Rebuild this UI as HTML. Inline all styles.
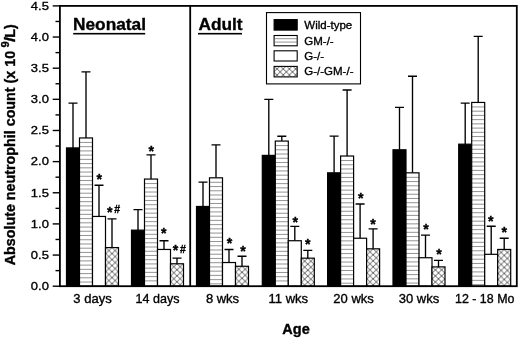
<!DOCTYPE html><html><head><meta charset="utf-8"><title>Absolute neutrophil count</title>
<style>html,body{margin:0;padding:0;background:#fff}svg{display:block}text{font-family:"Liberation Sans",sans-serif;fill:#000;stroke:#000;stroke-width:0.35px}</style></head><body>
<svg width="520" height="339" viewBox="0 0 520 339">
<defs>
</defs>
<rect width="520" height="339" fill="#fff"/>
<path d="M73.00 147.92V103.07M68.50 103.07H77.50" stroke="#000" stroke-width="1.35" fill="none"/>
<rect x="66.50" y="147.92" width="13.0" height="138.28" fill="#000" stroke="#000" stroke-width="1.2"/>
<path d="M86.00 137.95V71.93M81.50 71.93H90.50" stroke="#000" stroke-width="1.35" fill="none"/>
<rect x="79.50" y="137.95" width="13.0" height="148.25" fill="#fff"/>
<path d="M79.50 142.45h13.0M79.50 146.68h13.0M79.50 150.91h13.0M79.50 155.14h13.0M79.50 159.37h13.0M79.50 163.60h13.0M79.50 167.83h13.0M79.50 172.06h13.0M79.50 176.29h13.0M79.50 180.52h13.0M79.50 184.75h13.0M79.50 188.98h13.0M79.50 193.21h13.0M79.50 197.44h13.0M79.50 201.67h13.0M79.50 205.90h13.0M79.50 210.13h13.0M79.50 214.36h13.0M79.50 218.59h13.0M79.50 222.82h13.0M79.50 227.05h13.0M79.50 231.28h13.0M79.50 235.51h13.0M79.50 239.74h13.0M79.50 243.97h13.0M79.50 248.20h13.0M79.50 252.43h13.0M79.50 256.66h13.0M79.50 260.89h13.0M79.50 265.12h13.0M79.50 269.35h13.0M79.50 273.58h13.0M79.50 277.81h13.0M79.50 282.04h13.0" stroke="#666" stroke-width="0.7" fill="none"/>
<rect x="79.50" y="137.95" width="13.0" height="148.25" fill="none" stroke="#000" stroke-width="1.2"/>
<path d="M99.00 216.44V185.29M94.50 185.29H103.50" stroke="#000" stroke-width="1.35" fill="none"/>
<rect x="92.50" y="216.44" width="13.0" height="69.76" fill="#fff" stroke="#000" stroke-width="1.2"/>
<text transform="translate(96.53 183.53) scale(1.0 1)" font-size="14.2" text-anchor="start" font-weight="bold" stroke-width="0.1">*</text>
<path d="M112.00 247.58V218.93M107.50 218.93H116.50" stroke="#000" stroke-width="1.35" fill="none"/>
<pattern id="c0" x="112.00" y="247.58" width="6.2" height="6.0" patternUnits="userSpaceOnUse"><rect width="6.2" height="6.0" fill="#fff"/><path d="M0 0L6.2 6.0M6.2 0L0 6.0" stroke="#222" stroke-width="0.7" fill="none"/></pattern>
<rect x="105.50" y="247.58" width="13.0" height="38.62" fill="url(#c0)" stroke="#000" stroke-width="1.2"/>
<text transform="translate(106.98 217.17) scale(1.0 1)" font-size="14.2" text-anchor="start" font-weight="bold" stroke-width="0.1">*</text>
<text transform="translate(114.28 212.87) scale(1.0 1)" font-size="10.5" text-anchor="start" font-weight="bold" stroke-width="0.1">#</text>
<text transform="translate(92.50 303.20) scale(1.0 1)" font-size="13.0" text-anchor="middle">3 days</text>
<path d="M138.00 230.14V209.58M133.50 209.58H142.50" stroke="#000" stroke-width="1.35" fill="none"/>
<rect x="131.50" y="230.14" width="13.0" height="56.06" fill="#000" stroke="#000" stroke-width="1.2"/>
<path d="M151.00 179.06V154.90M146.50 154.90H155.50" stroke="#000" stroke-width="1.35" fill="none"/>
<rect x="144.50" y="179.06" width="13.0" height="107.14" fill="#fff"/>
<path d="M144.50 183.56h13.0M144.50 187.79h13.0M144.50 192.02h13.0M144.50 196.25h13.0M144.50 200.48h13.0M144.50 204.71h13.0M144.50 208.94h13.0M144.50 213.17h13.0M144.50 217.40h13.0M144.50 221.63h13.0M144.50 225.86h13.0M144.50 230.09h13.0M144.50 234.32h13.0M144.50 238.55h13.0M144.50 242.78h13.0M144.50 247.01h13.0M144.50 251.24h13.0M144.50 255.47h13.0M144.50 259.70h13.0M144.50 263.93h13.0M144.50 268.16h13.0M144.50 272.39h13.0M144.50 276.62h13.0M144.50 280.85h13.0" stroke="#666" stroke-width="0.7" fill="none"/>
<rect x="144.50" y="179.06" width="13.0" height="107.14" fill="none" stroke="#000" stroke-width="1.2"/>
<text transform="translate(148.53 155.63) scale(1.0 1)" font-size="14.2" text-anchor="start" font-weight="bold" stroke-width="0.1">*</text>
<path d="M164.00 249.45V240.73M159.50 240.73H168.50" stroke="#000" stroke-width="1.35" fill="none"/>
<rect x="157.50" y="249.45" width="13.0" height="36.75" fill="#fff" stroke="#000" stroke-width="1.2"/>
<text transform="translate(160.93 238.37) scale(1.0 1)" font-size="14.2" text-anchor="start" font-weight="bold" stroke-width="0.1">*</text>
<path d="M177.00 263.78V258.17M172.50 258.17H181.50" stroke="#000" stroke-width="1.35" fill="none"/>
<pattern id="c1" x="177.00" y="263.78" width="6.2" height="6.0" patternUnits="userSpaceOnUse"><rect width="6.2" height="6.0" fill="#fff"/><path d="M0 0L6.2 6.0M6.2 0L0 6.0" stroke="#222" stroke-width="0.7" fill="none"/></pattern>
<rect x="170.50" y="263.78" width="13.0" height="22.42" fill="url(#c1)" stroke="#000" stroke-width="1.2"/>
<text transform="translate(172.73 255.41) scale(1.0 1)" font-size="14.2" text-anchor="start" font-weight="bold" stroke-width="0.1">*</text>
<text transform="translate(179.88 252.51) scale(1.0 1)" font-size="10.5" text-anchor="start" font-weight="bold" stroke-width="0.1">#</text>
<text transform="translate(157.50 303.20) scale(0.965 1)" font-size="13.0" text-anchor="middle">14 days</text>
<path d="M203.00 206.47V182.18M198.50 182.18H207.50" stroke="#000" stroke-width="1.35" fill="none"/>
<rect x="196.50" y="206.47" width="13.0" height="79.73" fill="#000" stroke="#000" stroke-width="1.2"/>
<path d="M216.00 177.82V144.80M211.50 144.80H220.50" stroke="#000" stroke-width="1.35" fill="none"/>
<rect x="209.50" y="177.82" width="13.0" height="108.38" fill="#fff"/>
<path d="M209.50 182.32h13.0M209.50 186.55h13.0M209.50 190.78h13.0M209.50 195.01h13.0M209.50 199.24h13.0M209.50 203.47h13.0M209.50 207.70h13.0M209.50 211.93h13.0M209.50 216.16h13.0M209.50 220.39h13.0M209.50 224.62h13.0M209.50 228.85h13.0M209.50 233.08h13.0M209.50 237.31h13.0M209.50 241.54h13.0M209.50 245.77h13.0M209.50 250.00h13.0M209.50 254.23h13.0M209.50 258.46h13.0M209.50 262.69h13.0M209.50 266.92h13.0M209.50 271.15h13.0M209.50 275.38h13.0M209.50 279.61h13.0M209.50 283.84h13.0" stroke="#666" stroke-width="0.7" fill="none"/>
<rect x="209.50" y="177.82" width="13.0" height="108.38" fill="none" stroke="#000" stroke-width="1.2"/>
<path d="M229.00 262.53V249.45M224.50 249.45H233.50" stroke="#000" stroke-width="1.35" fill="none"/>
<rect x="222.50" y="262.53" width="13.0" height="23.67" fill="#fff" stroke="#000" stroke-width="1.2"/>
<text transform="translate(226.78 247.94) scale(1.0 1)" font-size="14.2" text-anchor="start" font-weight="bold" stroke-width="0.1">*</text>
<path d="M242.00 266.27V256.30M237.50 256.30H246.50" stroke="#000" stroke-width="1.35" fill="none"/>
<pattern id="c2" x="242.00" y="266.27" width="6.2" height="6.0" patternUnits="userSpaceOnUse"><rect width="6.2" height="6.0" fill="#fff"/><path d="M0 0L6.2 6.0M6.2 0L0 6.0" stroke="#222" stroke-width="0.7" fill="none"/></pattern>
<rect x="235.50" y="266.27" width="13.0" height="19.93" fill="url(#c2)" stroke="#000" stroke-width="1.2"/>
<text transform="translate(240.13 256.14) scale(1.0 1)" font-size="14.2" text-anchor="start" font-weight="bold" stroke-width="0.1">*</text>
<text transform="translate(222.50 303.20) scale(1.0 1)" font-size="13.0" text-anchor="middle">8 wks</text>
<path d="M268.80 155.39V99.33M264.30 99.33H273.30" stroke="#000" stroke-width="1.35" fill="none"/>
<rect x="262.30" y="155.39" width="13.0" height="130.81" fill="#000" stroke="#000" stroke-width="1.2"/>
<path d="M281.80 141.07V136.21M277.30 136.21H286.30" stroke="#000" stroke-width="1.35" fill="none"/>
<rect x="275.30" y="141.07" width="13.0" height="145.13" fill="#fff"/>
<path d="M275.30 145.57h13.0M275.30 149.80h13.0M275.30 154.03h13.0M275.30 158.26h13.0M275.30 162.49h13.0M275.30 166.72h13.0M275.30 170.95h13.0M275.30 175.18h13.0M275.30 179.41h13.0M275.30 183.64h13.0M275.30 187.87h13.0M275.30 192.10h13.0M275.30 196.33h13.0M275.30 200.56h13.0M275.30 204.79h13.0M275.30 209.02h13.0M275.30 213.25h13.0M275.30 217.48h13.0M275.30 221.71h13.0M275.30 225.94h13.0M275.30 230.17h13.0M275.30 234.40h13.0M275.30 238.63h13.0M275.30 242.86h13.0M275.30 247.09h13.0M275.30 251.32h13.0M275.30 255.55h13.0M275.30 259.78h13.0M275.30 264.01h13.0M275.30 268.24h13.0M275.30 272.47h13.0M275.30 276.70h13.0M275.30 280.93h13.0" stroke="#666" stroke-width="0.7" fill="none"/>
<rect x="275.30" y="141.07" width="13.0" height="145.13" fill="none" stroke="#000" stroke-width="1.2"/>
<path d="M294.80 240.73V226.40M290.30 226.40H299.30" stroke="#000" stroke-width="1.35" fill="none"/>
<rect x="288.30" y="240.73" width="13.0" height="45.47" fill="#fff" stroke="#000" stroke-width="1.2"/>
<text transform="translate(292.48 226.87) scale(1.0 1)" font-size="14.2" text-anchor="start" font-weight="bold" stroke-width="0.1">*</text>
<path d="M307.80 258.17V250.32M303.30 250.32H312.30" stroke="#000" stroke-width="1.35" fill="none"/>
<pattern id="c3" x="307.80" y="258.17" width="6.2" height="6.0" patternUnits="userSpaceOnUse"><rect width="6.2" height="6.0" fill="#fff"/><path d="M0 0L6.2 6.0M6.2 0L0 6.0" stroke="#222" stroke-width="0.7" fill="none"/></pattern>
<rect x="301.30" y="258.17" width="13.0" height="28.03" fill="url(#c3)" stroke="#000" stroke-width="1.2"/>
<text transform="translate(304.93 249.26) scale(1.0 1)" font-size="14.2" text-anchor="start" font-weight="bold" stroke-width="0.1">*</text>
<text transform="translate(288.30 303.20) scale(1.0 1)" font-size="13.0" text-anchor="middle">11 wks</text>
<path d="M334.10 172.83V136.08M329.60 136.08H338.60" stroke="#000" stroke-width="1.35" fill="none"/>
<rect x="327.60" y="172.83" width="13.0" height="113.37" fill="#000" stroke="#000" stroke-width="1.2"/>
<path d="M347.10 156.02V89.99M342.60 89.99H351.60" stroke="#000" stroke-width="1.35" fill="none"/>
<rect x="340.60" y="156.02" width="13.0" height="130.18" fill="#fff"/>
<path d="M340.60 160.52h13.0M340.60 164.75h13.0M340.60 168.98h13.0M340.60 173.21h13.0M340.60 177.44h13.0M340.60 181.67h13.0M340.60 185.90h13.0M340.60 190.13h13.0M340.60 194.36h13.0M340.60 198.59h13.0M340.60 202.82h13.0M340.60 207.05h13.0M340.60 211.28h13.0M340.60 215.51h13.0M340.60 219.74h13.0M340.60 223.97h13.0M340.60 228.20h13.0M340.60 232.43h13.0M340.60 236.66h13.0M340.60 240.89h13.0M340.60 245.12h13.0M340.60 249.35h13.0M340.60 253.58h13.0M340.60 257.81h13.0M340.60 262.04h13.0M340.60 266.27h13.0M340.60 270.50h13.0M340.60 274.73h13.0M340.60 278.96h13.0M340.60 283.19h13.0" stroke="#666" stroke-width="0.7" fill="none"/>
<rect x="340.60" y="156.02" width="13.0" height="130.18" fill="none" stroke="#000" stroke-width="1.2"/>
<path d="M360.10 238.24V203.98M355.60 203.98H364.60" stroke="#000" stroke-width="1.35" fill="none"/>
<rect x="353.60" y="238.24" width="13.0" height="47.96" fill="#fff" stroke="#000" stroke-width="1.2"/>
<text transform="translate(357.88 202.62) scale(1.0 1)" font-size="14.2" text-anchor="start" font-weight="bold" stroke-width="0.1">*</text>
<path d="M373.10 248.83V228.89M368.60 228.89H377.60" stroke="#000" stroke-width="1.35" fill="none"/>
<pattern id="c4" x="373.10" y="248.83" width="6.2" height="6.0" patternUnits="userSpaceOnUse"><rect width="6.2" height="6.0" fill="#fff"/><path d="M0 0L6.2 6.0M6.2 0L0 6.0" stroke="#222" stroke-width="0.7" fill="none"/></pattern>
<rect x="366.60" y="248.83" width="13.0" height="37.37" fill="url(#c4)" stroke="#000" stroke-width="1.2"/>
<text transform="translate(370.23 228.73) scale(1.0 1)" font-size="14.2" text-anchor="start" font-weight="bold" stroke-width="0.1">*</text>
<text transform="translate(353.60 303.20) scale(1.0 1)" font-size="13.0" text-anchor="middle">20 wks</text>
<path d="M399.50 149.79V107.43M395.00 107.43H404.00" stroke="#000" stroke-width="1.35" fill="none"/>
<rect x="393.00" y="149.79" width="13.0" height="136.41" fill="#000" stroke="#000" stroke-width="1.2"/>
<path d="M412.50 172.83V76.29M408.00 76.29H417.00" stroke="#000" stroke-width="1.35" fill="none"/>
<rect x="406.00" y="172.83" width="13.0" height="113.37" fill="#fff"/>
<path d="M406.00 177.33h13.0M406.00 181.56h13.0M406.00 185.79h13.0M406.00 190.02h13.0M406.00 194.25h13.0M406.00 198.48h13.0M406.00 202.71h13.0M406.00 206.94h13.0M406.00 211.17h13.0M406.00 215.40h13.0M406.00 219.63h13.0M406.00 223.86h13.0M406.00 228.09h13.0M406.00 232.32h13.0M406.00 236.55h13.0M406.00 240.78h13.0M406.00 245.01h13.0M406.00 249.24h13.0M406.00 253.47h13.0M406.00 257.70h13.0M406.00 261.93h13.0M406.00 266.16h13.0M406.00 270.39h13.0M406.00 274.62h13.0M406.00 278.85h13.0M406.00 283.08h13.0" stroke="#666" stroke-width="0.7" fill="none"/>
<rect x="406.00" y="172.83" width="13.0" height="113.37" fill="none" stroke="#000" stroke-width="1.2"/>
<path d="M425.50 257.73V235.12M421.00 235.12H430.00" stroke="#000" stroke-width="1.35" fill="none"/>
<rect x="419.00" y="257.73" width="13.0" height="28.47" fill="#fff" stroke="#000" stroke-width="1.2"/>
<text transform="translate(423.13 233.76) scale(1.0 1)" font-size="14.2" text-anchor="start" font-weight="bold" stroke-width="0.1">*</text>
<path d="M438.50 266.89V260.35M434.00 260.35H443.00" stroke="#000" stroke-width="1.35" fill="none"/>
<pattern id="c5" x="438.50" y="266.89" width="6.2" height="6.0" patternUnits="userSpaceOnUse"><rect width="6.2" height="6.0" fill="#fff"/><path d="M0 0L6.2 6.0M6.2 0L0 6.0" stroke="#222" stroke-width="0.7" fill="none"/></pattern>
<rect x="432.00" y="266.89" width="13.0" height="19.31" fill="url(#c5)" stroke="#000" stroke-width="1.2"/>
<text transform="translate(436.28 258.90) scale(1.0 1)" font-size="14.2" text-anchor="start" font-weight="bold" stroke-width="0.1">*</text>
<text transform="translate(419.00 303.20) scale(1.0 1)" font-size="13.0" text-anchor="middle">30 wks</text>
<path d="M465.20 144.18V103.07M460.70 103.07H469.70" stroke="#000" stroke-width="1.35" fill="none"/>
<rect x="458.70" y="144.18" width="13.0" height="142.02" fill="#000" stroke="#000" stroke-width="1.2"/>
<path d="M478.20 102.45V36.30M473.70 36.30H482.70" stroke="#000" stroke-width="1.35" fill="none"/>
<rect x="471.70" y="102.45" width="13.0" height="183.75" fill="#fff"/>
<path d="M471.70 106.95h13.0M471.70 111.18h13.0M471.70 115.41h13.0M471.70 119.64h13.0M471.70 123.87h13.0M471.70 128.10h13.0M471.70 132.33h13.0M471.70 136.56h13.0M471.70 140.79h13.0M471.70 145.02h13.0M471.70 149.25h13.0M471.70 153.48h13.0M471.70 157.71h13.0M471.70 161.94h13.0M471.70 166.17h13.0M471.70 170.40h13.0M471.70 174.63h13.0M471.70 178.86h13.0M471.70 183.09h13.0M471.70 187.32h13.0M471.70 191.55h13.0M471.70 195.78h13.0M471.70 200.01h13.0M471.70 204.24h13.0M471.70 208.47h13.0M471.70 212.70h13.0M471.70 216.93h13.0M471.70 221.16h13.0M471.70 225.39h13.0M471.70 229.62h13.0M471.70 233.85h13.0M471.70 238.08h13.0M471.70 242.31h13.0M471.70 246.54h13.0M471.70 250.77h13.0M471.70 255.00h13.0M471.70 259.23h13.0M471.70 263.46h13.0M471.70 267.69h13.0M471.70 271.92h13.0M471.70 276.15h13.0M471.70 280.38h13.0M471.70 284.61h13.0" stroke="#666" stroke-width="0.7" fill="none"/>
<rect x="471.70" y="102.45" width="13.0" height="183.75" fill="none" stroke="#000" stroke-width="1.2"/>
<path d="M491.20 254.31V226.22M486.70 226.22H495.70" stroke="#000" stroke-width="1.35" fill="none"/>
<rect x="484.70" y="254.31" width="13.0" height="31.89" fill="#fff" stroke="#000" stroke-width="1.2"/>
<text transform="translate(488.03 226.02) scale(1.0 1)" font-size="14.2" text-anchor="start" font-weight="bold" stroke-width="0.1">*</text>
<path d="M504.20 249.45V238.24M499.70 238.24H508.70" stroke="#000" stroke-width="1.35" fill="none"/>
<pattern id="c6" x="504.20" y="249.45" width="6.2" height="6.0" patternUnits="userSpaceOnUse"><rect width="6.2" height="6.0" fill="#fff"/><path d="M0 0L6.2 6.0M6.2 0L0 6.0" stroke="#222" stroke-width="0.7" fill="none"/></pattern>
<rect x="497.70" y="249.45" width="13.0" height="36.75" fill="url(#c6)" stroke="#000" stroke-width="1.2"/>
<text transform="translate(501.43 236.78) scale(1.0 1)" font-size="14.2" text-anchor="start" font-weight="bold" stroke-width="0.1">*</text>
<text transform="translate(484.70 303.20) scale(0.957 1)" font-size="13.0" text-anchor="middle">12 - 18 Mo</text>
<rect x="59.9" y="5.9" width="456.9" height="280.3" fill="none" stroke="#000" stroke-width="1.8"/>
<path d="M190.2 5.9V286.2" stroke="#000" stroke-width="1.8"/>
<path d="M52.699999999999996 286.20H59.9" stroke="#000" stroke-width="1.4"/>
<text transform="translate(48.90 290.05) scale(1.1 1)" font-size="11.8" text-anchor="end">0.0</text>
<path d="M55.5 270.63H59.9" stroke="#000" stroke-width="1.4"/>
<path d="M52.699999999999996 255.06H59.9" stroke="#000" stroke-width="1.4"/>
<text transform="translate(48.90 258.91) scale(1.1 1)" font-size="11.8" text-anchor="end">0.5</text>
<path d="M55.5 239.48H59.9" stroke="#000" stroke-width="1.4"/>
<path d="M52.699999999999996 223.91H59.9" stroke="#000" stroke-width="1.4"/>
<text transform="translate(48.90 227.76) scale(1.1 1)" font-size="11.8" text-anchor="end">1.0</text>
<path d="M55.5 208.34H59.9" stroke="#000" stroke-width="1.4"/>
<path d="M52.699999999999996 192.77H59.9" stroke="#000" stroke-width="1.4"/>
<text transform="translate(48.90 196.62) scale(1.1 1)" font-size="11.8" text-anchor="end">1.5</text>
<path d="M55.5 177.19H59.9" stroke="#000" stroke-width="1.4"/>
<path d="M52.699999999999996 161.62H59.9" stroke="#000" stroke-width="1.4"/>
<text transform="translate(48.90 165.47) scale(1.1 1)" font-size="11.8" text-anchor="end">2.0</text>
<path d="M55.5 146.05H59.9" stroke="#000" stroke-width="1.4"/>
<path d="M52.699999999999996 130.48H59.9" stroke="#000" stroke-width="1.4"/>
<text transform="translate(48.90 134.33) scale(1.1 1)" font-size="11.8" text-anchor="end">2.5</text>
<path d="M55.5 114.91H59.9" stroke="#000" stroke-width="1.4"/>
<path d="M52.699999999999996 99.33H59.9" stroke="#000" stroke-width="1.4"/>
<text transform="translate(48.90 103.18) scale(1.1 1)" font-size="11.8" text-anchor="end">3.0</text>
<path d="M55.5 83.76H59.9" stroke="#000" stroke-width="1.4"/>
<path d="M52.699999999999996 68.19H59.9" stroke="#000" stroke-width="1.4"/>
<text transform="translate(48.90 72.04) scale(1.1 1)" font-size="11.8" text-anchor="end">3.5</text>
<path d="M55.5 52.62H59.9" stroke="#000" stroke-width="1.4"/>
<path d="M52.699999999999996 37.04H59.9" stroke="#000" stroke-width="1.4"/>
<text transform="translate(48.90 40.89) scale(1.1 1)" font-size="11.8" text-anchor="end">4.0</text>
<path d="M55.5 21.47H59.9" stroke="#000" stroke-width="1.4"/>
<path d="M52.699999999999996 5.90H59.9" stroke="#000" stroke-width="1.4"/>
<text transform="translate(48.90 9.75) scale(1.1 1)" font-size="11.8" text-anchor="end">4.5</text>
<text transform="translate(73.00 30.30) scale(1.0 1)" font-size="17.3" text-anchor="start" font-weight="bold">Neonatal</text>
<rect x="73.2" y="32.9" width="72" height="1.6" fill="#000"/>
<text transform="translate(198.40 30.30) scale(1.0 1)" font-size="17.3" text-anchor="start" font-weight="bold">Adult</text>
<rect x="198" y="32.9" width="44" height="1.6" fill="#000"/>
<text transform="translate(282.30 333.90) scale(1.0 1)" font-size="14.5" text-anchor="start" font-weight="bold">Age</text>
<text transform="translate(15 265.3) rotate(-90)" font-size="14.3" font-weight="bold">Absolute neutrophil count (x 10</text>
<text transform="translate(9.4 47.4) rotate(-90)" font-size="11.3" font-weight="bold">9</text>
<text transform="translate(15 41.9) rotate(-90) scale(1.3 1)" font-size="14.3" font-weight="bold">/</text>
<text transform="translate(15 37.8) rotate(-90)" font-size="14.3" font-weight="bold">L)</text>
<rect x="266.5" y="12.6" width="94" height="71.3" fill="#fff" stroke="#000" stroke-width="1.1"/>
<pattern id="cl" x="277" y="68.9" width="6.2" height="6.0" patternUnits="userSpaceOnUse"><rect width="6.2" height="6.0" fill="#fff"/><path d="M0 0L6.2 6.0M6.2 0L0 6.0" stroke="#222" stroke-width="0.7" fill="none"/></pattern>
<rect x="274.1" y="19.60" width="23.1" height="10.5" fill="#000" stroke="#000" stroke-width="1.1"/>
<text transform="translate(304.30 29.40) scale(1.0 1)" font-size="11.5" text-anchor="start">Wild-type</text>
<rect x="274.1" y="35.50" width="23.1" height="10.3" fill="#fff" stroke="#000" stroke-width="1.1"/>
<path d="M274.1 38.7h23.1M274.1 42.1h23.1" stroke="#666" stroke-width="0.7" fill="none"/>
<text transform="translate(304.30 45.00) scale(1.0 1)" font-size="11.5" text-anchor="start">GM-/-</text>
<rect x="274.1" y="50.80" width="23.1" height="10.2" fill="#fff" stroke="#000" stroke-width="1.1"/>
<text transform="translate(304.30 59.70) scale(1.0 1)" font-size="11.5" text-anchor="start">G-/-</text>
<rect x="274.1" y="66.40" width="23.1" height="10.5" fill="url(#cl)" stroke="#000" stroke-width="1.1"/>
<text transform="translate(304.30 75.40) scale(1.0 1)" font-size="11.5" text-anchor="start">G-/-GM-/-</text>
</svg></body></html>
